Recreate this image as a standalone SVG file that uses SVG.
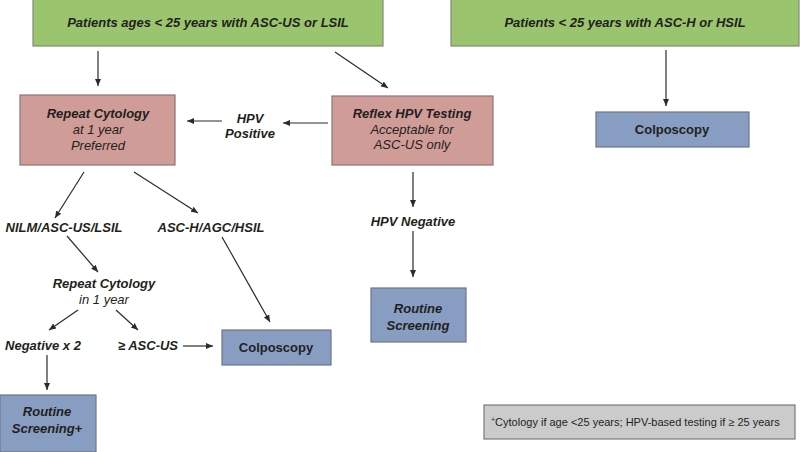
<svg xmlns="http://www.w3.org/2000/svg" width="800" height="452" viewBox="0 0 800 452">
<style>
text{font-family:"Liberation Sans",Arial,sans-serif;fill:#231f20;text-anchor:middle}
.bi{font-weight:bold;font-style:italic;font-size:13px}
.i{font-style:italic;font-size:13px}
.b{font-weight:bold;font-size:13px}
.green{fill:#9bc46e;stroke:#7f8a77;stroke-width:1.2}
.pink{fill:#d09c98;stroke:#8c7472;stroke-width:1.2}
.blue{fill:#879ec2;stroke:#6d7585;stroke-width:1.2}
.gray{fill:#cbcbcb;stroke:#7a7a7a;stroke-width:1.2}
.c line{stroke:#2b2b2b;stroke-width:1.2;marker-end:url(#ah)}
</style>
<defs>
<marker id="ah" markerWidth="8" markerHeight="8" refX="7" refY="4" orient="auto" markerUnits="userSpaceOnUse">
<path d="M0,1 L7,4 L0,7 Z" fill="#2b2b2b"/>
</marker>
</defs>
<rect width="800" height="452" fill="#fff"/>
<g id="n1"><rect class="green" x="33" y="-1" width="350" height="47"/><text class="bi" x="208" y="27">Patients ages &lt; 25 years with ASC-US or LSIL</text></g>
<g id="n2"><rect class="green" x="451" y="-1" width="348" height="47"/><text class="bi" x="625" y="27">Patients &lt; 25 years with ASC-H or HSIL</text></g>
<g id="n3"><rect class="blue" x="596" y="112" width="153" height="35"/><text class="b" x="672" y="134">Colposcopy</text></g>
<g id="n4"><rect class="pink" x="20" y="95" width="155" height="70"/><text class="bi" x="98" y="118">Repeat Cytology</text><text class="i" x="98" y="134">at 1 year</text><text class="i" x="98" y="150">Preferred</text></g>
<g id="n5"><rect class="pink" x="332" y="96" width="161" height="69"/><text class="bi" x="412" y="118">Reflex HPV Testing</text><text class="i" x="412" y="134">Acceptable for</text><text class="i" x="412" y="149">ASC-US only</text></g>
<g id="n6"><text class="bi" x="250" y="123">HPV</text><text class="bi" x="250" y="138">Positive</text></g>
<g id="n7"><text class="bi" x="64" y="232">NILM/ASC-US/LSIL</text></g>
<g id="n8"><text class="bi" x="211" y="232">ASC-H/AGC/HSIL</text></g>
<g id="n9"><text class="bi" x="104" y="288">Repeat Cytology</text><text class="i" x="104" y="304">in 1 year</text></g>
<g id="n10"><text class="bi" x="43" y="350">Negative x 2</text></g>
<g id="n11"><text class="bi" x="148" y="350">≥ ASC-US</text></g>
<g id="n12"><rect class="blue" x="222" y="330" width="109" height="35"/><text class="b" x="276" y="352">Colposcopy</text></g>
<g id="n13"><rect class="blue" x="0" y="395" width="96" height="57"/><text class="bi" x="47" y="416">Routine</text><text class="bi" x="47" y="433">Screening+</text></g>
<g id="n14"><text class="bi" x="413" y="226">HPV Negative</text></g>
<g id="n15"><rect class="blue" x="371" y="288" width="95" height="54"/><text class="bi" x="418" y="313">Routine</text><text class="bi" x="418" y="330">Screening</text></g>
<g id="n16"><rect class="gray" x="484" y="405" width="311" height="34"/><text x="491" y="426" style="font-size:11px;text-anchor:start"><tspan style="font-size:7px" dy="-4">+</tspan><tspan dy="4">Cytology if age &lt;25 years; HPV-based testing if ≥ 25 years</tspan></text></g>
<g class="c" id="connectors">
<line x1="98" y1="51" x2="98" y2="86"/>
<line x1="335" y1="52" x2="388" y2="88"/>
<line x1="666" y1="50" x2="666" y2="106"/>
<line x1="328" y1="123" x2="283" y2="123"/>
<line x1="222" y1="121" x2="187" y2="121"/>
<line x1="84" y1="172" x2="55" y2="218"/>
<line x1="134" y1="172" x2="198" y2="213"/>
<line x1="67" y1="236" x2="98" y2="272"/>
<line x1="78" y1="310" x2="49" y2="330"/>
<line x1="116" y1="310" x2="138" y2="330"/>
<line x1="183" y1="346" x2="213" y2="346"/>
<line x1="222" y1="237" x2="270" y2="322"/>
<line x1="47" y1="355" x2="47" y2="390"/>
<line x1="413" y1="172" x2="413" y2="207"/>
<line x1="413" y1="231" x2="413" y2="277"/>
</g>
</svg>
